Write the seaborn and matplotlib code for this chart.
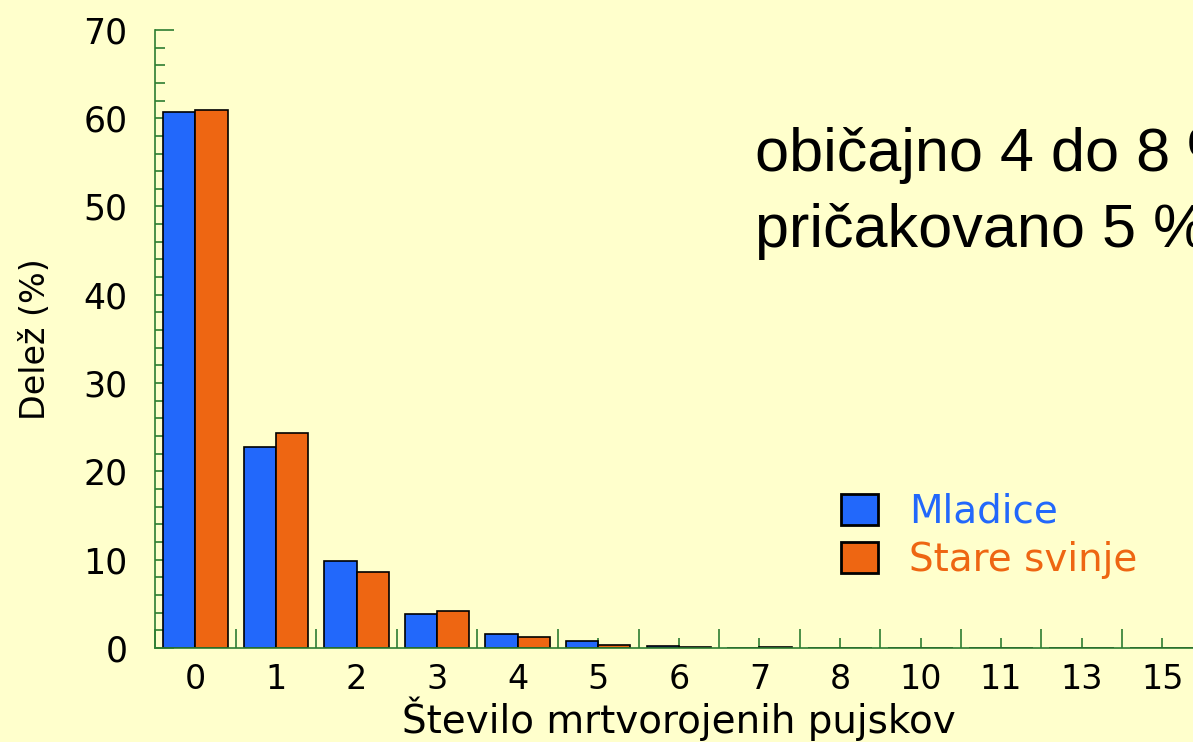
import pandas as pd
import matplotlib.pyplot as plt
import seaborn as sns
from matplotlib.ticker import MultipleLocator, FixedLocator

# mrtvorojeni pujski na gnezdo
kategorije = ['0', '1', '2', '3', '4', '5', '6', '7', '8', '10', '11', '13', '15']
mladice = [60.7, 22.8, 9.85, 3.8, 1.55, 0.76, 0.2, 0.02, 0.05, 0, 0, 0, 0]
stare_svinje = [60.9, 24.3, 8.6, 4.2, 1.25, 0.3, 0.1, 0.08, 0.05, 0, 0, 0, 0]
skupine = ['Mladice', 'Stare svinje']
barve = ['#2268fb', '#ee6612']

df = pd.DataFrame({
    'kat': kategorije * 2,
    'delez': mladice + stare_svinje,
    'skupina': [skupine[0]] * len(kategorije) + [skupine[1]] * len(kategorije),
})

sns.set_style('white')
plt.rcParams['font.family'] = ['DejaVu Sans']
plt.rcParams['text.color'] = 'black'
plt.rcParams['axes.labelcolor'] = 'black'
plt.rcParams['xtick.labelcolor'] = 'black'
plt.rcParams['ytick.labelcolor'] = 'black'
bg = '#ffffcc'
zelena = '#2e7d32'

fig = plt.figure(figsize=(11.93, 7.42), dpi=100, facecolor=bg)
ax = fig.add_axes([0.13, 0.1267, 0.878, 0.833], facecolor=bg)

sns.barplot(data=df, x='kat', y='delez', hue='skupina', order=kategorije,
            hue_order=skupine, palette=barve, edgecolor='black', linewidth=1.2,
            saturation=1, ax=ax)

ax.set_xlim(-0.5, len(kategorije) - 0.5)
ax.set_ylim(0, 70)
ax.yaxis.set_major_locator(MultipleLocator(10))
ax.yaxis.set_minor_locator(MultipleLocator(2))
# dolge crtice med skupinami, kratke na sredini
ax.xaxis.set_major_locator(FixedLocator([i + 0.5 for i in range(-1, len(kategorije))]))
ax.xaxis.set_minor_locator(FixedLocator(range(len(kategorije))))
ax.set_xticklabels([])
ax.set_xticks(range(len(kategorije)), labels=kategorije, minor=True)

for s in ['top', 'right']:
    ax.spines[s].set_visible(False)
for s in ['left', 'bottom']:
    ax.spines[s].set_color(zelena)
    ax.spines[s].set_linewidth(1.2)

ax.tick_params(axis='y', which='major', direction='in', length=14, width=1.2,
               color=zelena, labelsize=25, pad=20, left=True)
ax.tick_params(axis='y', which='minor', direction='in', length=7, width=1.2,
               color=zelena, left=True)
ax.tick_params(axis='x', which='major', direction='in', length=14, width=1.2,
               color=zelena, bottom=True)
ax.tick_params(axis='x', which='minor', direction='in', length=7, width=1.2,
               color=zelena, labelsize=24, pad=11, bottom=True)

ax.set_ylabel('Delež (%)', fontsize=24)
ax.yaxis.set_label_coords(-0.098, 0.5)
ax.set_xlabel('Število mrtvorojenih pujskov', fontsize=28)
ax.xaxis.set_label_coords(0.5, -0.079)

leg = ax.legend(loc='upper left', bbox_to_anchor=(0.689, 0.362), bbox_transform=fig.transFigure,
                frameon=False, fontsize=28, handlelength=0.95, handleheight=0.85,
                handletextpad=0.8, labelspacing=0.27, borderpad=0)
for t, c in zip(leg.get_texts(), barve):
    t.set_color(c)
for h in leg.legend_handles:
    h.set_edgecolor('black')
    h.set_linewidth(2)

fig.text(0.633, 0.77, 'običajno 4 do 8 %', fontsize=44, family='Liberation Sans', va='baseline')
fig.text(0.633, 0.667, 'pričakovano 5 %', fontsize=44, family='Liberation Sans', va='baseline')

fig.savefig('out.png', dpi=100, facecolor=bg)
